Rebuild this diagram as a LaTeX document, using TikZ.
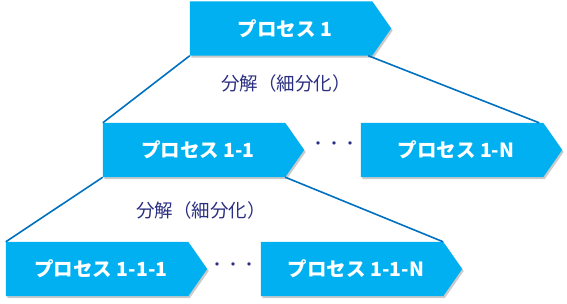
\documentclass[tikz,border=0pt]{standalone}
\usepackage{fontspec}
\newfontfamily\jp{Noto Sans CJK JP}
\usetikzlibrary{shadows,backgrounds,calc}
\definecolor{boxcyan}{HTML}{00B0F0}
\definecolor{linkblue}{HTML}{0070C0}
\definecolor{labnavy}{HTML}{2B2F80}
\tikzset{
  procbox/.style={rectangle, minimum width=182pt, minimum height=54pt, inner sep=0pt},
  proctext/.style={text=white, font=\jp\bfseries\fontsize{19.5}{19.5}\selectfont, inner sep=0pt},
  boxfill/.style={fill=boxcyan, drop shadow={shadow xshift=1.5pt, shadow yshift=-2pt, opacity=0.35, fill=black!60}},
  link/.style={draw=linkblue, line width=1.6pt},
  declabel/.style={text=labnavy, font=\jp\fontsize{18.5}{18.5}\selectfont, inner sep=0pt},
  dots/.style={text=labnavy, font=\jp\fontsize{16}{16}\selectfont, inner sep=0pt}
}
\newcommand{\procshape}[1]{%
  \path[boxfill] (#1.north west) -- (#1.north east) -- ($(#1.east)+(19pt,0)$) -- (#1.south east) -- (#1.south west) -- cycle;}
\begin{document}
\begin{tikzpicture}[x=1pt,y=-1pt]
\useasboundingbox (0,0) rectangle (567,303);
% box frames
\node[procbox] (p1) at (281,28.5) {};
\node[procbox] (p11) at (194,150) {};
\node[procbox] (p1N) at (452,150) {};
\node[procbox] (p111) at (97,269) {};
\node[procbox] (p11N) at (352,269) {};
% connectors
\draw[link] (p1.south west) -- (p11.north west);
\draw[link] ($(p1.south east)+(-4,0)$) coordinate (c1) -- ($(p1N.north east)+(-4,0)$) coordinate (c2);
\draw[link] (p11.south west) -- (p111.north west);
\draw[link] (p11.south east) -- (p11N.north east);
\begin{scope}[on background layer]
\procshape{p1}
\procshape{p11}
\procshape{p1N}
\procshape{p111}
\procshape{p11N}
\end{scope}
% texts
\node[proctext] (t1) at ($(p1)+(4,0)$) {プロセス 1};
\node[proctext] (t11) at ($(p11)+(4,0)$) {プロセス 1-1};
\node[proctext] (t1N) at ($(p1N)+(4,0)$) {プロセス 1-N};
\node[proctext] (t111) at ($(p111)+(4,0)$) {プロセス 1-1-1};
\node[proctext] (t11N) at ($(p11N)+(4,0)$) {プロセス 1-1-N};
\node[declabel] (l1) at (286,83) {分解（細分化）};
\node[declabel] (l2) at (201,210) {分解（細分化）};
\node[dots] (d1) at (334,146) {・・・};
\node[dots] (d2) at (233,267) {・・・};
\end{tikzpicture}
\end{document}
